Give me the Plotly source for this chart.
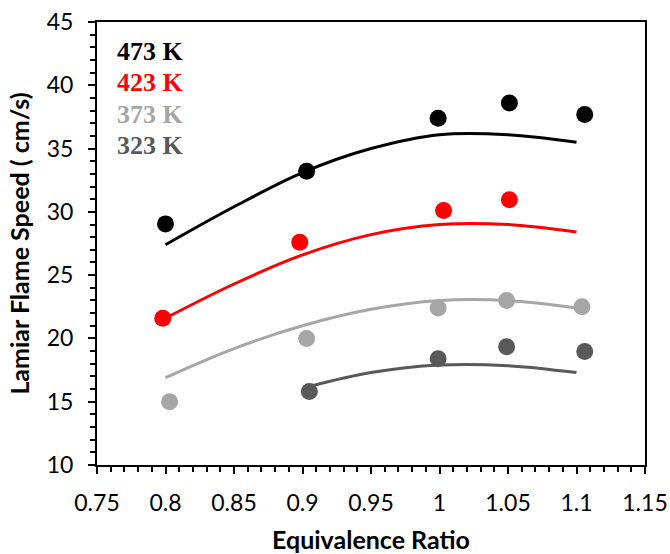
import plotly.graph_objects as go

# Measured data points
x_473 = [0.800, 0.903, 0.999, 1.051, 1.106]
y_473 = [29.05, 33.2, 37.4, 38.6, 37.7]
x_423 = [0.798, 0.898, 1.003, 1.051]
y_423 = [21.6, 27.6, 30.1, 30.95]
x_373 = [0.803, 0.903, 0.999, 1.049, 1.104]
y_373 = [15.0, 20.0, 22.4, 23.0, 22.5]
x_323 = [0.905, 0.999, 1.049, 1.106]
y_323 = [15.8, 18.4, 19.35, 18.96]

# Trend curves
cx_main = [0.8, 0.85, 0.9, 0.95, 1.0, 1.05, 1.1]
cy_473 = [27.4, 30.4, 33.1, 35.0, 36.1, 36.1, 35.5]
cy_423 = [21.6, 24.3, 26.6, 28.2, 29.0, 29.0, 28.4]
cy_373 = [16.9, 19.2, 21.0, 22.3, 23.0, 23.0, 22.4]
cx_323 = [0.905, 0.95, 1.0, 1.05, 1.1]
cy_323 = [16.2, 17.3, 17.9, 17.85, 17.3]

labels = ["473 K", "423 K", "373 K", "323 K"]
colors = ["#000000", "#FF0000", "#A6A6A6", "#595959"]

fig = go.Figure()
series = [
    (x_473, y_473, cx_main, cy_473),
    (x_423, y_423, cx_main, cy_423),
    (x_373, y_373, cx_main, cy_373),
    (x_323, y_323, cx_323, cy_323),
]
for (px, py, cx, cy), col, lab in zip(series, colors, labels):
    fig.add_trace(go.Scatter(x=cx, y=cy, mode="lines",
                             line=dict(color=col, width=3, shape="spline", smoothing=1.0),
                             showlegend=False, hoverinfo="skip"))
    fig.add_trace(go.Scatter(x=px, y=py, mode="markers",
                             marker=dict(color=col, size=17),
                             name=lab, showlegend=False))

for i, (lab, col) in enumerate(zip(labels, colors)):
    fig.add_annotation(x=0.033, y=0.934 - i * 0.071, xref="paper", yref="paper",
                       text=f"<b>{lab}</b>", showarrow=False, xanchor="left", yanchor="middle",
                       font=dict(family="Liberation Serif", size=26, color=col))

axis_font = dict(family="Lato", size=23, color="#000000")
fig.update_xaxes(range=[0.75, 1.15], dtick=0.05, tick0=0.75, automargin=False,
                 showline=True, linecolor="black", linewidth=2, mirror=True,
                 ticks="outside", ticklen=7, tickwidth=2, tickcolor="black",
                 minor=dict(dtick=0.01, ticks="outside", ticklen=5, tickwidth=2, tickcolor="black"),
                 showgrid=False, zeroline=False, tickfont=axis_font, ticklabelstandoff=9,
                 title=dict(text="<b>Equivalence Ratio</b>", font=dict(family="Lato", size=25, color="black"),
                            standoff=20))
fig.update_yaxes(range=[10, 45], dtick=5, automargin=False,
                 showline=True, linecolor="black", linewidth=2, mirror=True,
                 ticks="outside", ticklen=7, tickwidth=2, tickcolor="black",
                 minor=dict(dtick=1, ticks="outside", ticklen=5, tickwidth=2, tickcolor="black"),
                 showgrid=False, zeroline=False, tickfont=axis_font, ticklabelstandoff=10,
                 title=dict(text="<b>Lamiar Flame Speed ( cm/s)</b>", font=dict(family="Lato", size=25, color="black"),
                            standoff=10))
fig.update_layout(width=670, height=554, margin=dict(l=97, r=25, t=22, b=89),
                  plot_bgcolor="white", paper_bgcolor="white")
fig.write_html("out.html")
